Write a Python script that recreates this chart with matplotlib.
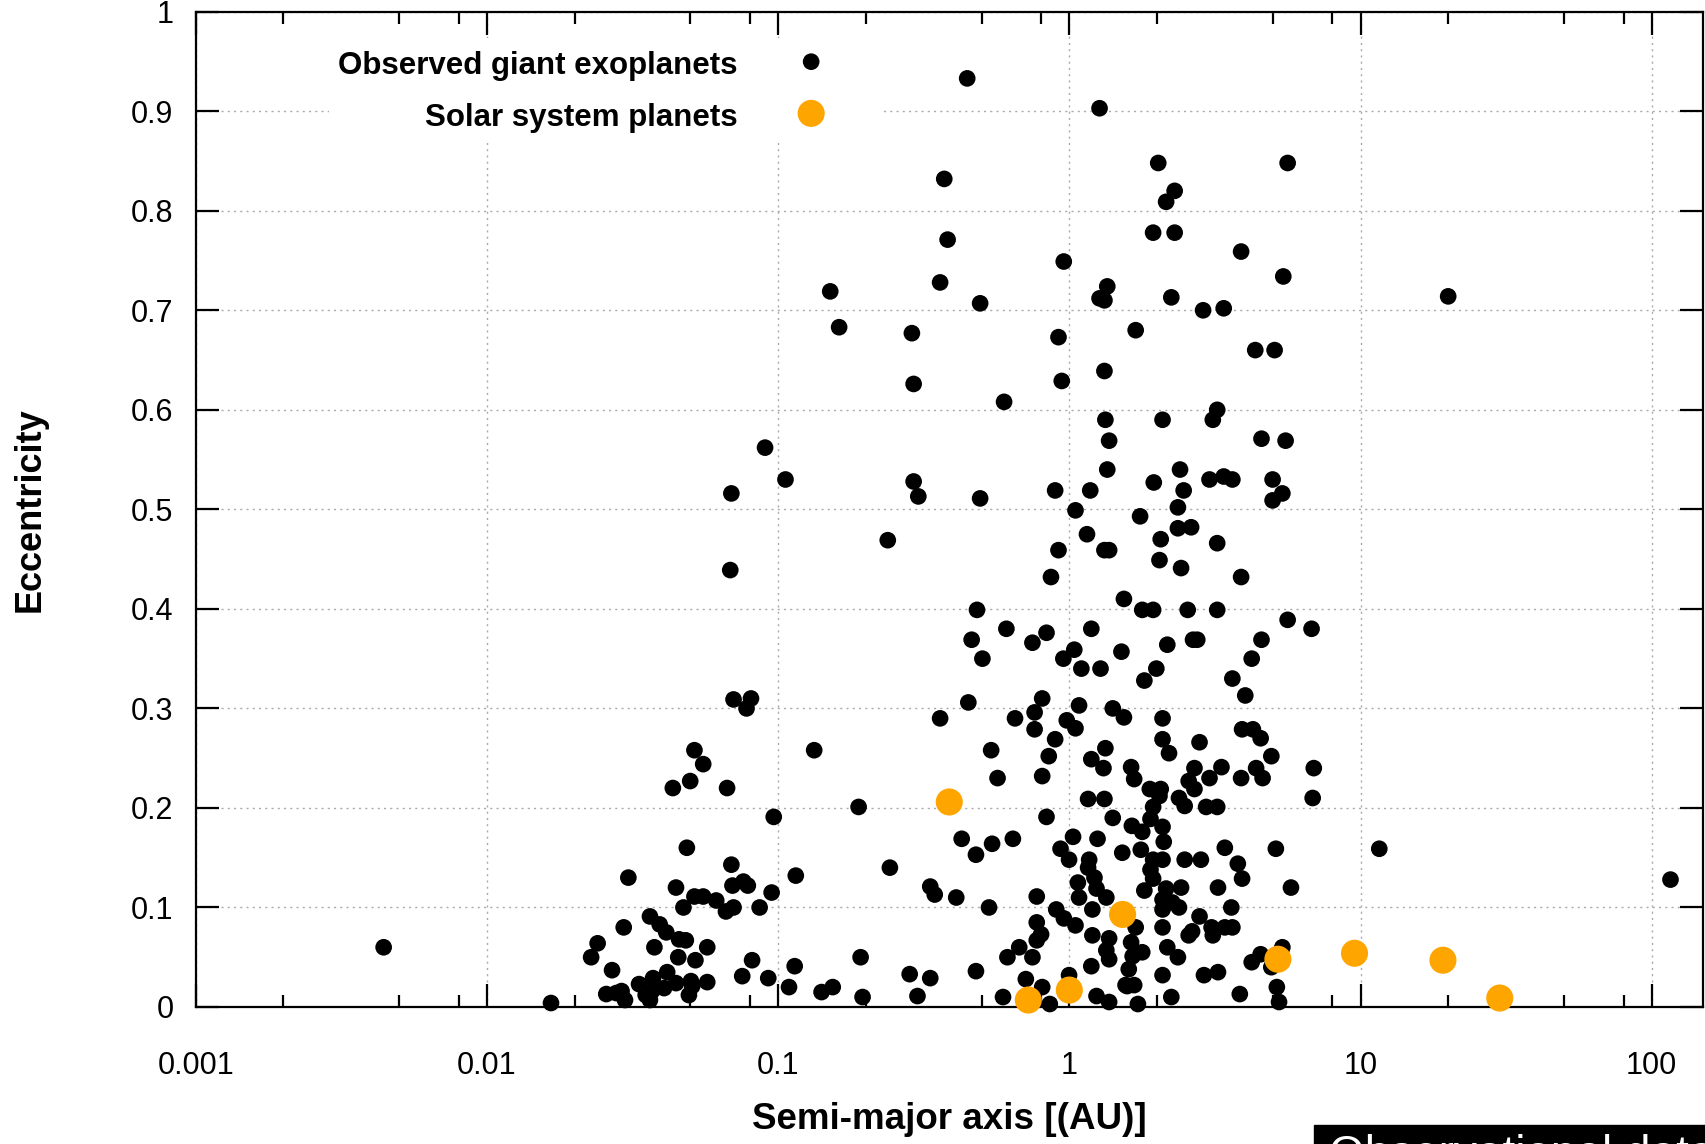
import matplotlib.pyplot as plt
from matplotlib.patches import Rectangle
from matplotlib.ticker import LogLocator, NullFormatter

plt.rcParams['font.family'] = ['Liberation Sans', 'DejaVu Sans']

# semi-major axis [AU] and eccentricity of the observed giant exoplanets
semi_major_axis = [
    0.446, 1.27, 2.02, 5.62, 0.372, 2.30, 2.15, 1.94, 2.30,
    0.382, 3.89, 0.957, 5.43, 0.151, 0.360, 1.35, 1.27, 1.32, 2.24,
    20.0, 0.494, 2.88, 3.39, 0.162, 0.288, 1.69, 0.918, 4.35, 5.07,
    1.32, 0.292, 0.942, 0.597, 3.22, 3.11, 1.33, 2.09, 0.0902, 4.57,
    5.53, 1.37, 1.35, 2.40, 0.106, 0.292, 3.03, 3.39, 3.63, 4.99,
    1.95, 1.18, 2.47, 0.894, 5.39, 0.0691, 0.303, 0.494, 4.99, 2.36,
    1.05, 1.75, 2.62, 2.36, 1.15, 0.238, 2.06, 0.918, 3.22, 1.32,
    1.37, 2.04, 2.42, 0.0685,
    0.865, 0.482, 1.54, 1.78, 1.94, 0.608, 0.835, 1.19, 0.462, 0.747,
    1.04, 0.954, 0.503, 1.10, 1.28, 1.51, 0.450, 0.360, 0.807, 0.760,
    0.651, 0.760, 1.08, 0.98, 1.05, 1.41, 1.54, 0.894, 0.539, 0.850,
    1.33, 1.19, 1.31, 1.63, 1.67, 0.567, 0.807, 1.16, 1.32, 0.835,
    1.41, 1.64, 0.427, 0.543, 0.640, 0.478, 0.242, 0.333, 0.345, 0.409,
    0.530, 0.773, 1.03, 0.933, 0.998, 1.17, 1.25, 1.16, 1.22, 1.07,
    1.24, 1.08, 1.34, 1.20, 0.902, 0.958, 1.05, 1.20, 1.37, 1.34,
    1.37, 1.52, 1.63, 1.65, 1.60, 0.773, 0.800, 0.773, 0.673, 0.613,
    0.747, 0.478, 0.283, 0.333, 0.301, 0.592, 0.709, 0.807, 0.998, 1.19,
    1.24, 1.37, 1.58, 0.857,
    3.89, 2.55, 3.22, 5.62, 6.79, 2.75, 2.66, 2.17, 4.57, 4.23,
    1.99, 1.81, 3.63, 4.02, 2.09, 2.09, 2.20, 2.80, 3.92, 4.27,
    4.54, 4.94, 6.91, 1.89, 2.06, 2.69, 2.57, 2.69, 3.03, 3.33,
    3.89, 4.38, 4.61, 2.38, 2.49, 2.95, 3.22, 6.85, 1.94, 2.04,
    1.78, 1.90, 2.09, 2.11, 1.76, 1.94, 2.09, 2.49, 2.83, 3.42,
    3.79, 3.92, 5.12, 11.6, 5.77, 1.90, 1.94, 1.81, 2.15, 2.09,
    2.26, 2.42, 2.38, 3.24, 3.60, 3.63, 2.09, 2.80, 2.57, 2.64,
    3.08, 3.11, 3.42, 1.69, 2.09, 1.78, 2.17, 2.36, 2.09, 2.90,
    3.24, 4.23, 4.54, 5.39, 4.94, 1.56, 1.67, 2.24, 3.85, 5.16,
    5.25, 1.72,
    0.0703, 0.0807, 0.0779, 0.133, 0.0516, 0.0553, 0.0499, 0.0435, 0.0668, 0.189,
    0.0966, 0.0486, 0.0691, 0.0697, 0.0760, 0.0787, 0.0306, 0.115, 0.0446, 0.0516,
    0.0553, 0.0613, 0.0473, 0.0662, 0.0703, 0.0864, 0.0950, 0.0295, 0.0363, 0.0392,
    0.0413, 0.0457, 0.0376, 0.0240, 0.0228, 0.0269, 0.0454, 0.0520, 0.0571, 0.0814,
    0.114, 0.0753, 0.0925, 0.192, 0.0372, 0.0416, 0.0502, 0.0571, 0.109, 0.141,
    0.154, 0.195, 0.00442, 0.0166, 0.0298, 0.0363, 116, 0.0333, 0.0446, 0.0482,
    0.0278, 0.0257, 0.0290, 0.0351, 0.0369, 0.0406, 0.0494, 0.0507,
]
eccentricity = [
    0.933, 0.903, 0.848, 0.848, 0.832, 0.820, 0.809, 0.778, 0.778,
    0.771, 0.759, 0.749, 0.734, 0.719, 0.728, 0.724, 0.712, 0.710, 0.713,
    0.714, 0.707, 0.700, 0.702, 0.683, 0.677, 0.680, 0.673, 0.660, 0.660,
    0.639, 0.626, 0.629, 0.608, 0.600, 0.590, 0.590, 0.590, 0.562, 0.571,
    0.569, 0.569, 0.540, 0.540, 0.530, 0.528, 0.530, 0.533, 0.530, 0.530,
    0.527, 0.519, 0.519, 0.519, 0.516, 0.516, 0.513, 0.511, 0.509, 0.502,
    0.499, 0.493, 0.482, 0.481, 0.475, 0.469, 0.470, 0.459, 0.466, 0.459,
    0.459, 0.449, 0.441, 0.439,
    0.432, 0.399, 0.410, 0.399, 0.399, 0.380, 0.376, 0.380, 0.369, 0.366,
    0.359, 0.350, 0.350, 0.340, 0.340, 0.357, 0.306, 0.290, 0.310, 0.296,
    0.290, 0.279, 0.303, 0.288, 0.280, 0.300, 0.291, 0.269, 0.258, 0.252,
    0.260, 0.249, 0.240, 0.241, 0.229, 0.230, 0.232, 0.209, 0.209, 0.191,
    0.190, 0.182, 0.169, 0.164, 0.169, 0.153, 0.140, 0.121, 0.113, 0.110,
    0.100, 0.111, 0.171, 0.159, 0.148, 0.148, 0.169, 0.140, 0.130, 0.125,
    0.119, 0.110, 0.110, 0.098, 0.098, 0.089, 0.082, 0.072, 0.069, 0.057,
    0.048, 0.155, 0.065, 0.051, 0.038, 0.085, 0.073, 0.067, 0.060, 0.050,
    0.050, 0.036, 0.033, 0.029, 0.011, 0.010, 0.028, 0.020, 0.032, 0.041,
    0.011, 0.005, 0.021, 0.003,
    0.432, 0.399, 0.399, 0.389, 0.380, 0.369, 0.369, 0.364, 0.369, 0.350,
    0.340, 0.328, 0.330, 0.313, 0.290, 0.269, 0.255, 0.266, 0.279, 0.279,
    0.270, 0.252, 0.240, 0.219, 0.219, 0.240, 0.227, 0.219, 0.230, 0.241,
    0.230, 0.240, 0.230, 0.210, 0.202, 0.201, 0.201, 0.210, 0.201, 0.212,
    0.176, 0.189, 0.181, 0.166, 0.158, 0.148, 0.148, 0.148, 0.148, 0.160,
    0.144, 0.129, 0.159, 0.159, 0.120, 0.138, 0.129, 0.117, 0.119, 0.108,
    0.105, 0.120, 0.100, 0.120, 0.100, 0.080, 0.098, 0.091, 0.072, 0.076,
    0.080, 0.072, 0.080, 0.080, 0.080, 0.055, 0.060, 0.050, 0.032, 0.032,
    0.035, 0.045, 0.053, 0.060, 0.040, 0.022, 0.022, 0.010, 0.013, 0.020,
    0.005, 0.003,
    0.309, 0.310, 0.300, 0.258, 0.258, 0.244, 0.227, 0.220, 0.220, 0.201,
    0.191, 0.160, 0.143, 0.122, 0.126, 0.122, 0.130, 0.132, 0.120, 0.111,
    0.111, 0.107, 0.100, 0.096, 0.100, 0.100, 0.115, 0.080, 0.091, 0.083,
    0.075, 0.068, 0.060, 0.064, 0.050, 0.037, 0.050, 0.047, 0.060, 0.047,
    0.041, 0.031, 0.029, 0.050, 0.029, 0.035, 0.026, 0.025, 0.020, 0.015,
    0.020, 0.010, 0.060, 0.004, 0.007, 0.007, 0.128, 0.023, 0.024, 0.067,
    0.014, 0.013, 0.016, 0.012, 0.016, 0.019, 0.012, 0.021,
]

# Mercury .. Neptune
solar_a = [0.387, 0.723, 1.0, 1.524, 5.203, 9.537, 19.19, 30.07]
solar_e = [0.206, 0.007, 0.017, 0.093, 0.048, 0.054, 0.047, 0.009]

x_ticks = [0.001, 0.01, 0.1, 1, 10, 100]
x_labels = ["0.001", "0.01", "0.1", "1", "10", "100"]
y_ticks = [0, 0.1, 0.2, 0.3, 0.4, 0.5, 0.6, 0.7, 0.8, 0.9, 1]
y_labels = ["0", "0.1", "0.2", "0.3", "0.4", "0.5", "0.6", "0.7", "0.8", "0.9", "1"]

W, H = 1705, 1144
fig = plt.figure(figsize=(W / 100, H / 100), dpi=100)
ax = fig.add_axes([195.7 / W, 1 - 1007 / H, (1703 - 195.7) / W, (1007 - 11.7) / H])

ax.scatter(semi_major_axis, eccentricity, s=144, c='black', edgecolors='none',
           clip_on=False, zorder=3, label="Observed giant exoplanets")
ax.scatter(solar_a, solar_e, s=380, c='#ffa500', edgecolors='none',
           clip_on=False, zorder=4, label="Solar system planets")

ax.set_xscale('log')
ax.set_xlim(0.001, 150)
ax.set_ylim(0, 1)
ax.set_xticks(x_ticks, labels=x_labels)
ax.set_yticks(y_ticks, labels=y_labels)
ax.xaxis.set_minor_locator(LogLocator(base=10, subs=(2, 5, 8)))
ax.xaxis.set_minor_formatter(NullFormatter())

for sp in ax.spines.values():
    sp.set_linewidth(1.6)
ax.tick_params(which='both', direction='in', top=True, right=True, width=1.6,
               labelsize=22, colors='black')
ax.tick_params(which='major', length=16.5)
ax.tick_params(which='minor', length=8.5)
ax.tick_params(axis='x', which='major', pad=32)
ax.tick_params(axis='y', which='major', pad=16)

ax.set_axisbelow(True)
ax.grid(True, which='major', color='#aaaaaa', linewidth=1.0, linestyle=(0, (1.5, 3)))

ax.set_xlabel("Semi-major axis [(AU)]", fontsize=26.5, fontweight='bold', va='center')
ax.xaxis.set_label_coords(0.5, -0.1135)
ax.set_ylabel("Eccentricity", fontsize=26, fontweight='bold', va='center')
ax.yaxis.set_label_coords(-0.110, 0.5)

leg = ax.legend(loc='upper right', bbox_to_anchor=(0.456, 0.974), markerfirst=False,
                frameon=True, fancybox=False, edgecolor='none', facecolor='white',
                framealpha=1, prop={'weight': 'bold', 'size': 22.5},
                handlelength=4.0, handleheight=1.3, handletextpad=0.36, borderpad=0.3,
                labelspacing=0.55, borderaxespad=0, scatterpoints=1)

# caption box cut by the lower right corner
fig.patches.append(Rectangle((1314 / W, 0), (W - 1314) / W, 19 / H,
                             transform=fig.transFigure, color='black'))
fig.text(1329 / W, 1 - 1134 / H, "Observational data", color='white',
         fontsize=33, va='top', ha='left')

fig.savefig("out.png", dpi=100)
